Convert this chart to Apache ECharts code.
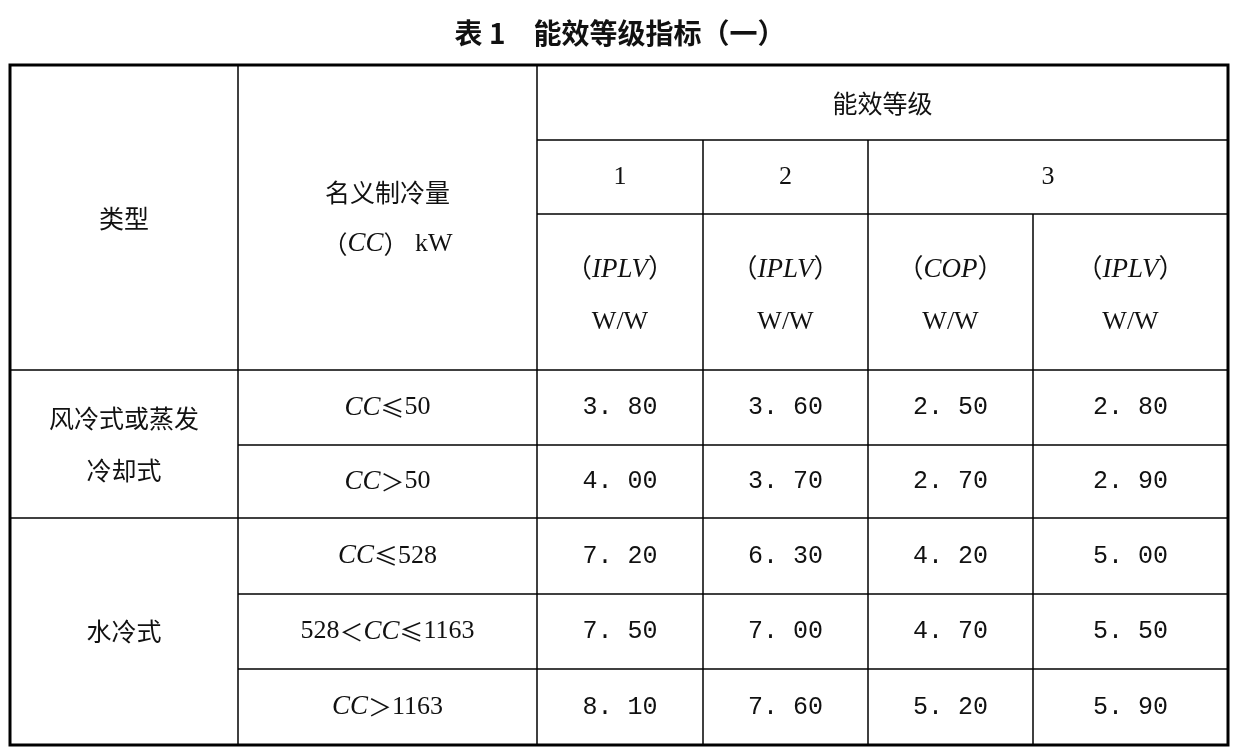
<!DOCTYPE html>
<html><head><meta charset="utf-8">
<script src="https://cdn.jsdelivr.net/npm/echarts@6/dist/echarts.min.js"></script>
<style>html,body{margin:0;padding:0;background:#fff}#c{width:1238px;height:753px}</style>
</head><body><div id="c"></div>
<script>
const title = '表 1　能效等级指标（一）';
const typeLabels = ['风冷式或蒸发\n冷却式', '水冷式'];
const capacityLabels = ['{i|CC}{s|≤}50', '{i|CC}{s|＞}50', '{i|CC}{s|≤}528', '528{s|＜}{i|CC}{s|≤}1163', '{i|CC}{s|＞}1163'];
const grade1IPLV = [3.80, 4.00, 7.20, 7.50, 8.10];
const grade2IPLV = [3.60, 3.70, 6.30, 7.00, 7.60];
const grade3COP = [2.50, 2.70, 4.20, 4.70, 5.20];
const grade3IPLV = [2.80, 2.90, 5.00, 5.50, 5.90];
const gradeLabels = ['1', '2', '3'];
const metricLabels = ['（{i|IPLV}）\nW/W', '（{i|IPLV}）\nW/W', '（{i|COP}）\nW/W', '（{i|IPLV}）\nW/W'];

const X = [10, 238, 537, 703, 868, 1033, 1228];
const Y = [65, 140, 214, 370, 445, 518, 594, 669, 745];
const serif = '"Liberation Serif","DejaVu Serif","Noto Sans CJK SC",serif';
const cjk = '"Noto Sans CJK SC",sans-serif';
const els = [];
function line(x1,y1,x2,y2,w){els.push({type:'line',shape:{x1,y1,x2,y2},style:{stroke:'#000',lineWidth:w||1.5}});}
function text(t,x,y,opt){els.push({type:'text',x,y,style:Object.assign({text:t,x:0,y:0,align:'center',verticalAlign:'middle',fill:'#111',fontSize:25,fontFamily:cjk,lineHeight:52,rich:{i:{fontStyle:'italic',fontFamily:serif,fontSize:27},s:{fontFamily:cjk,fontSize:24},k:{fontFamily:serif,fontSize:26}}},opt||{})});}
const mid=(a,b)=>(a+b)/2;
els.push({type:'rect',shape:{x:X[0],y:Y[0],width:X[6]-X[0],height:Y[8]-Y[0]},style:{fill:'none',stroke:'#000',lineWidth:3}});
line(X[2],Y[1],X[6],Y[1]);
line(X[2],Y[2],X[6],Y[2]);
line(X[0],Y[3],X[6],Y[3]);
line(X[1],Y[4],X[6],Y[4]);
line(X[0],Y[5],X[6],Y[5]);
line(X[1],Y[6],X[6],Y[6]);
line(X[1],Y[7],X[6],Y[7]);
line(X[1],Y[0],X[1],Y[8]);
line(X[2],Y[0],X[2],Y[8]);
line(X[3],Y[1],X[3],Y[8]);
line(X[4],Y[1],X[4],Y[8]);
line(X[5],Y[2],X[5],Y[8]);
text(title,620,33,{fontSize:28,fontWeight:'bold'});
text('类型',mid(X[0],X[1]),218);
text('名义制冷量\n（{i|CC}）{k| kW}',mid(X[1],X[2]),218);
text('能效等级',mid(X[2],X[6]),103);
text(gradeLabels[0],mid(X[2],X[3]),177,{fontFamily:serif,fontSize:26});
text(gradeLabels[1],mid(X[3],X[4]),177,{fontFamily:serif,fontSize:26});
text(gradeLabels[2],mid(X[4],X[6]),177,{fontFamily:serif,fontSize:26});
metricLabels.forEach((m,i)=>text(m,mid(X[2+i],X[3+i]),296,{fontFamily:serif,fontSize:26}));
text(typeLabels[0],mid(X[0],X[1]),mid(Y[3],Y[5]));
text(typeLabels[1],mid(X[0],X[1]),mid(Y[5],Y[8]));
const fmt=v=>v.toFixed(2).replace('.','. ');
const cols=[grade1IPLV,grade2IPLV,grade3COP,grade3IPLV];
capacityLabels.forEach((c,r)=>{
  const y=mid(Y[3+r],Y[4+r]);
  text(c,mid(X[1],X[2]),y,{fontFamily:serif,fontSize:26});
  cols.forEach((arr,i)=>text(fmt(arr[r]),mid(X[2+i],X[3+i]),y,{fontFamily:'"Liberation Mono","DejaVu Sans Mono",monospace',fontSize:25}));
});
const chart=echarts.init(document.getElementById('c'));
chart.setOption({animation:false,graphic:{elements:els}});
</script></body></html>
